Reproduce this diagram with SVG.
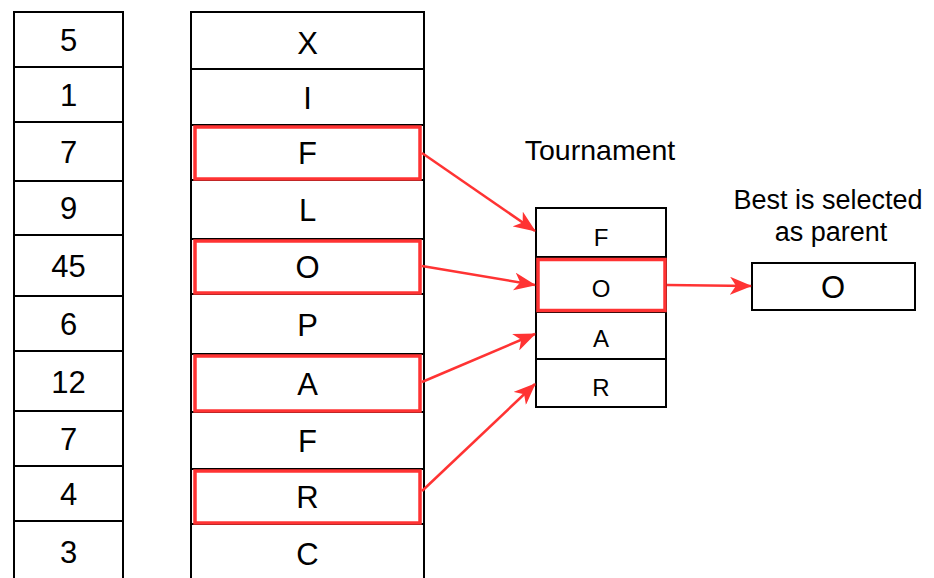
<svg xmlns="http://www.w3.org/2000/svg" width="934" height="578" viewBox="0 0 934 578">
<style>
.cell{fill:#fff;stroke:#000;stroke-width:2}
.sel{fill:none;stroke:#ff3333;stroke-width:3.5}
.t{font-family:"Liberation Sans",Arial,sans-serif;fill:#000;text-anchor:middle}
.big{font-size:31px}
.mid{font-size:24px}
.lbl{font-size:27px}
.edge{fill:none;stroke:#ff3333;stroke-width:2.5}
</style>
<defs>
<marker id="ah" viewBox="0 0 22 18" refX="21" refY="9" markerWidth="22" markerHeight="18" markerUnits="userSpaceOnUse" orient="auto">
<path d="M0,0 L22,9 L0,18 L6,9 Z" fill="#ff3333"/>
</marker>
</defs>
<rect width="934" height="578" fill="#fff"/>
<g id="fitness">
<rect class="cell" x="14" y="12" width="109" height="55"/>
<rect class="cell" x="14" y="67" width="109" height="55"/>
<rect class="cell" x="14" y="122" width="109" height="59"/>
<rect class="cell" x="14" y="181" width="109" height="54"/>
<rect class="cell" x="14" y="235" width="109" height="61"/>
<rect class="cell" x="14" y="296" width="109" height="55"/>
<rect class="cell" x="14" y="351" width="109" height="60"/>
<rect class="cell" x="14" y="411" width="109" height="55"/>
<rect class="cell" x="14" y="466" width="109" height="55"/>
<rect class="cell" x="14" y="521" width="109" height="62"/>
<text class="t big" x="68.5" y="51">5</text>
<text class="t big" x="68.5" y="106">1</text>
<text class="t big" x="68.5" y="163">7</text>
<text class="t big" x="68.5" y="219">9</text>
<text class="t big" x="68.5" y="277">45</text>
<text class="t big" x="68.5" y="335">6</text>
<text class="t big" x="68.5" y="393">12</text>
<text class="t big" x="68.5" y="450">7</text>
<text class="t big" x="68.5" y="505">4</text>
<text class="t big" x="68.5" y="563">3</text>
</g>
<g id="population">
<rect class="cell" x="191" y="12" width="233" height="57"/>
<rect class="cell" x="191" y="69" width="233" height="56"/>
<rect class="cell" x="191" y="125" width="233" height="55"/>
<rect class="cell" x="191" y="180" width="233" height="59"/>
<rect class="cell" x="191" y="239" width="233" height="55"/>
<rect class="cell" x="191" y="294" width="233" height="60"/>
<rect class="cell" x="191" y="354" width="233" height="58"/>
<rect class="cell" x="191" y="412" width="233" height="57"/>
<rect class="cell" x="191" y="469" width="233" height="55"/>
<rect class="cell" x="191" y="524" width="233" height="59"/>
<text class="t big" x="307.5" y="54">X</text>
<text class="t big" x="307.5" y="109">I</text>
<text class="t big" x="307.5" y="164">F</text>
<text class="t big" x="307.5" y="221">L</text>
<text class="t big" x="307.5" y="278">O</text>
<text class="t big" x="307.5" y="336">P</text>
<text class="t big" x="307.5" y="395">A</text>
<text class="t big" x="307.5" y="452">F</text>
<text class="t big" x="307.5" y="508">R</text>
<text class="t big" x="307.5" y="565">C</text>
<rect id="selF" class="sel" x="195" y="127" width="225" height="52"/>
<rect id="selO" class="sel" x="195" y="241" width="225" height="52"/>
<rect id="selA" class="sel" x="195" y="356" width="225" height="55"/>
<rect id="selR" class="sel" x="195" y="471" width="225" height="52"/>
</g>
<g id="tournament">
<text class="t" style="font-size:28.5px" x="600" y="160">Tournament</text>
<rect class="cell" x="536" y="208" width="130" height="49"/>
<rect class="cell" x="536" y="257" width="130" height="55"/>
<rect class="cell" x="536" y="312" width="130" height="47"/>
<rect class="cell" x="536" y="359" width="130" height="48"/>
<text class="t mid" x="601" y="246">F</text>
<text class="t mid" x="601" y="297">O</text>
<text class="t mid" x="601" y="347">A</text>
<text class="t mid" x="601" y="396">R</text>
<rect class="sel" x="538" y="259.5" width="127" height="51"/>
</g>
<g id="parent">
<text class="t lbl" x="828" y="209">Best is selected</text>
<text class="t lbl" x="831" y="241">as parent</text>
<rect class="cell" x="752" y="263" width="163" height="47"/>
<text class="t big" x="833" y="298">O</text>
</g>
<g id="connectors">
<line class="edge" x1="422" y1="153" x2="535" y2="231" marker-end="url(#ah)"/>
<line class="edge" x1="422" y1="266" x2="535" y2="285" marker-end="url(#ah)"/>
<line class="edge" x1="422" y1="382" x2="535" y2="334" marker-end="url(#ah)"/>
<line class="edge" x1="422" y1="491" x2="535" y2="384" marker-end="url(#ah)"/>
<line class="edge" x1="667" y1="285" x2="751" y2="286" marker-end="url(#ah)"/>
</g>
</svg>
